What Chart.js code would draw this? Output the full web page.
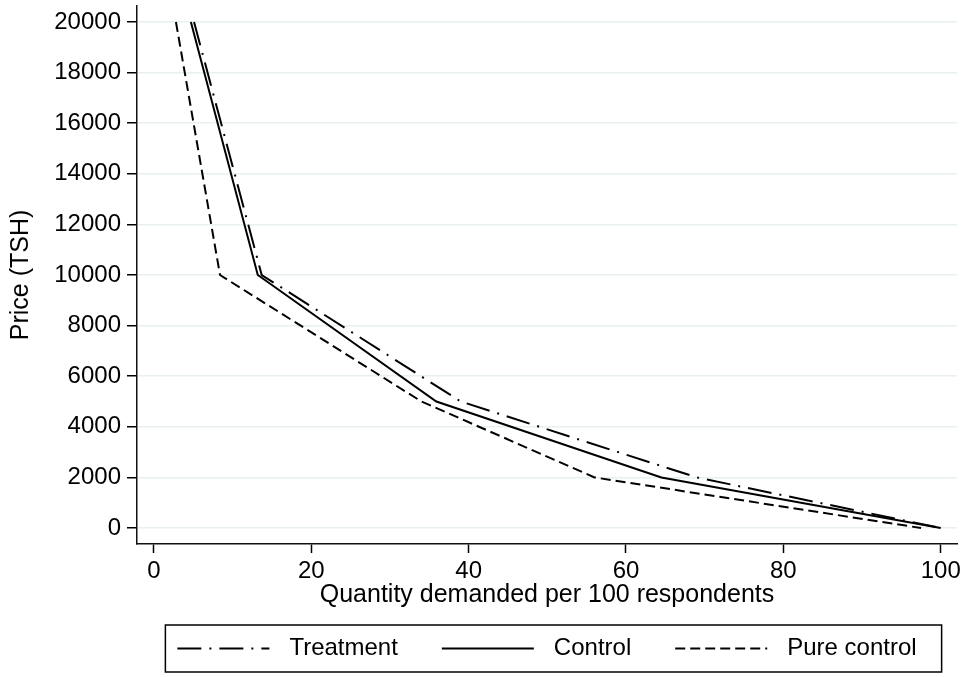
<!DOCTYPE html>
<html lang="en">
<head>
  <meta charset="UTF-8" />
  <title>Demand curves</title>
  <script src="https://cdn.jsdelivr.net/npm/chart.js"></script>
  <style>
    body { margin: 0; background: #fff; }
    #wrap { width: 968px; height: 677px; }
  </style>
</head>
<body>
  <div id="wrap"><canvas id="demandChart"></canvas></div>

  <script>
    // price levels (y) shared by all three curves
    const prices = [20000, 10000, 5000, 2000, 0];
    // quantity demanded per 100 respondents at each price
    const treatmentQty = [5.1, 13.7, 39, 69, 100];
    const controlQty = [4.7, 13.2, 35.9, 64.5, 100];
    const pureControlQty = [2.8, 8.4, 34, 56, 97.5];

    const xTicks = [0, 20, 40, 60, 80, 100];
    const yTicks = [0, 2000, 4000, 6000, 8000, 10000, 12000, 14000, 16000, 18000, 20000];

    const FAMILY = "'Liberation Sans', Arial, Helvetica, sans-serif";
    const FONT = { family: FAMILY, size: 24 };
    const TITLE_FONT = { family: FAMILY, size: 25 };

    function toPoints(qty) {
      return qty.map((q, i) => ({ x: q, y: prices[i] }));
    }

    // Stata-style legend: one row inside a thin frame under the axis title
    const boxedLegend = {
      id: 'boxedLegend',
      afterDraw(chart) {
        const ctx = chart.ctx;
        const area = chart.chartArea;
        const sample = 92, gapText = 20, gapItem = 44;
        ctx.save();
        ctx.font = `${FONT.size}px ${FONT.family}`;
        const items = chart.data.datasets.map(ds => ({ ds, w: ctx.measureText(ds.label).width }));
        const total = items.reduce((s, it) => s + sample + gapText + it.w, 0) + gapItem * (items.length - 1);
        let x = (area.left + area.right) / 2 - total / 2;
        const top = chart.height - 52;
        const bottom = chart.height - 5;
        const midY = (top + bottom) / 2;

        ctx.strokeStyle = '#000';
        ctx.lineWidth = 1.5;
        ctx.setLineDash([]);
        ctx.strokeRect(x - 12, top, total + 37, bottom - top);

        ctx.fillStyle = '#000';
        ctx.textBaseline = 'middle';
        ctx.textAlign = 'left';
        items.forEach(it => {
          ctx.beginPath();
          ctx.lineWidth = it.ds.borderWidth;
          ctx.setLineDash(it.ds.borderDash || []);
          ctx.moveTo(x, midY);
          ctx.lineTo(x + sample, midY);
          ctx.stroke();
          ctx.setLineDash([]);
          ctx.fillText(it.ds.label, x + sample + gapText, midY);
          x += sample + gapText + it.w + gapItem;
        });
        ctx.restore();
      }
    };

    new Chart(document.getElementById('demandChart'), {
      type: 'line',
      data: {
        datasets: [
          {
            label: 'Treatment',
            data: toPoints(treatmentQty),
            borderColor: '#000',
            borderWidth: 2,
            borderDash: [24, 8, 2, 8],
            pointRadius: 0,
            tension: 0
          },
          {
            label: 'Control',
            data: toPoints(controlQty),
            borderColor: '#000',
            borderWidth: 2,
            pointRadius: 0,
            tension: 0
          },
          {
            label: 'Pure control',
            data: toPoints(pureControlQty),
            borderColor: '#000',
            borderWidth: 2,
            borderDash: [10, 5],
            pointRadius: 0,
            tension: 0
          }
        ]
      },
      options: {
        responsive: true,
        maintainAspectRatio: false,
        animation: false,
        layout: { padding: { top: 6, right: 11, bottom: 67, left: 0 } },
        plugins: {
          legend: { display: false },
          tooltip: { enabled: false }
        },
        scales: {
          x: {
            type: 'linear',
            min: -2.15,
            max: 102.07,
            afterBuildTicks: s => { s.ticks = xTicks.map(v => ({ value: v })); },
            afterFit: s => { s.height = 66; s.paddingLeft = 0; s.paddingRight = 0; },
            grid: { drawOnChartArea: false, tickLength: 9, tickColor: '#000', tickWidth: 1.5 },
            border: { color: '#111', width: 1.5 },
            ticks: { font: FONT, color: '#000', padding: 4, maxRotation: 0, autoSkip: false, callback: v => String(v) },
            title: {
              display: true,
              text: 'Quantity demanded per 100 respondents',
              font: TITLE_FONT,
              color: '#000',
              padding: { top: 0, bottom: 0 }
            }
          },
          y: {
            type: 'linear',
            min: -632,
            max: 20632,
            afterBuildTicks: s => { s.ticks = yTicks.map(v => ({ value: v })); },
            afterFit: s => { s.width = 137; s.paddingTop = 0; s.paddingBottom = 0; },
            grid: { color: '#e8f0f2', lineWidth: 1.5, tickLength: 10, tickColor: '#000', tickWidth: 1.5 },
            border: { color: '#111', width: 1.5 },
            ticks: { font: FONT, color: '#000', padding: 6, autoSkip: false, callback: v => String(v) },
            title: {
              display: true,
              text: 'Price (TSH)',
              font: TITLE_FONT,
              color: '#000',
              padding: { top: 6, bottom: 0 }
            }
          }
        }
      },
      plugins: [boxedLegend]
    });
  </script>
</body>
</html>
